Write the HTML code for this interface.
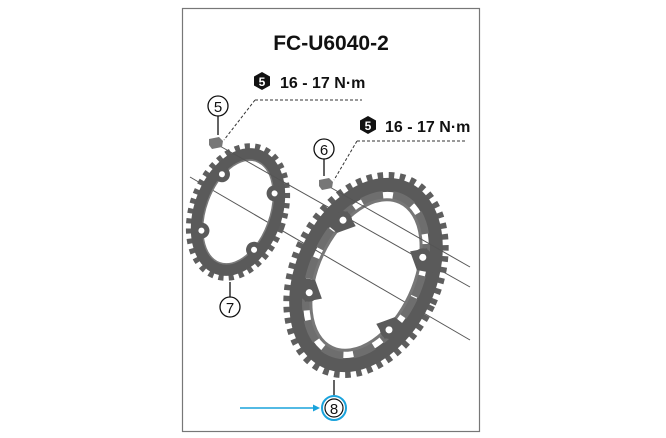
<!DOCTYPE html>
<html><head><style>
html,body{margin:0;padding:0;background:#fff;}
svg{display:block;}
text{font-family:"Liberation Sans",Arial,sans-serif;}
</style></head><body>
<svg width="666" height="438" viewBox="0 0 666 438" xmlns="http://www.w3.org/2000/svg">
<rect x="182.5" y="8.5" width="297" height="423" fill="#fff" stroke="#777" stroke-width="1.2"/>
<text x="331" y="50" font-size="21" font-weight="bold" text-anchor="middle" fill="#111">FC-U6040-2</text>

<polygon points="262,72 270,76.5 270,85.5 262,90 254,85.5 254,76.5" fill="#111"/>
<text x="262" y="86" font-size="12" font-weight="bold" fill="#fff" text-anchor="middle">5</text>
<text x="280" y="88" font-size="16" font-weight="bold" fill="#111">16 - 17 N·m</text>
<line x1="255" y1="100" x2="362" y2="100" stroke="#333" stroke-dasharray="3,2"/>
<path d="M255 100 L224 140" stroke="#333" stroke-dasharray="3,2" fill="none"/>

<polygon points="368,116 376,120.5 376,129.5 368,134 360,129.5 360,120.5" fill="#111"/>
<text x="368" y="130" font-size="12" font-weight="bold" fill="#fff" text-anchor="middle">5</text>
<text x="385" y="132" font-size="16" font-weight="bold" fill="#111">16 - 17 N·m</text>
<line x1="357" y1="141" x2="466" y2="141" stroke="#333" stroke-dasharray="3,2"/>
<path d="M357 141 L334 180" stroke="#333" stroke-dasharray="3,2" fill="none"/>

<circle cx="218" cy="106" r="10" fill="#fff" stroke="#111" stroke-width="1.3"/>
<text x="218" y="112" font-size="15" text-anchor="middle" fill="#111">5</text>
<line x1="218" y1="116" x2="218" y2="135" stroke="#111" stroke-width="1.3"/>
<circle cx="324" cy="149" r="10" fill="#fff" stroke="#111" stroke-width="1.3"/>
<text x="324" y="155" font-size="15" text-anchor="middle" fill="#111">6</text>
<line x1="324" y1="159" x2="324" y2="176" stroke="#111" stroke-width="1.3"/>

<line x1="190" y1="177" x2="470" y2="340" stroke="#555" stroke-width="1"/>

<!-- small ring -->
<g transform="translate(238,212) rotate(20)">
<ellipse rx="45" ry="67" fill="none" stroke="#5e5e5e" stroke-width="8" stroke-dasharray="5,5"/>
<ellipse rx="38" ry="60" fill="none" stroke="#5a5a5a" stroke-width="12"/>
<ellipse rx="32" ry="54" fill="none" stroke="#7a7a7a" stroke-width="1.5"/>
<circle cx="-28" cy="-30" r="8" fill="#5a5a5a"/><circle cx="28" cy="-30" r="8" fill="#5a5a5a"/>
<circle cx="-28" cy="30" r="8" fill="#5a5a5a"/><circle cx="28" cy="30" r="8" fill="#5a5a5a"/>
<circle cx="-28" cy="-30" r="3" fill="#fff"/><circle cx="28" cy="-30" r="3" fill="#fff"/>
<circle cx="-28" cy="30" r="3" fill="#fff"/><circle cx="28" cy="30" r="3" fill="#fff"/>
</g>
<line x1="218" y1="145" x2="470" y2="287" stroke="#555" stroke-width="1"/>

<!-- big ring -->
<g transform="translate(366,275) rotate(25)">
<ellipse rx="72" ry="104" fill="none" stroke="#5e5e5e" stroke-width="8" stroke-dasharray="5.5,5.5"/>
<ellipse rx="63" ry="95" fill="none" stroke="#5a5a5a" stroke-width="14"/>
<ellipse rx="53" ry="85" fill="none" stroke="#6e6e6e" stroke-width="8" stroke-dasharray="22,10"/>
<ellipse rx="48" ry="80" fill="none" stroke="#777" stroke-width="3"/>
<path d="M-60 -30 L-44 -50 L-30 -40 L-44 -26Z M60 -30 L44 -50 L30 -40 L44 -26Z M-60 30 L-44 50 L-30 40 L-44 26Z M60 30 L44 50 L30 40 L44 26Z" fill="#5a5a5a"/>
<circle cx="-44" cy="-40" r="9" fill="#5a5a5a"/><circle cx="44" cy="-40" r="9" fill="#5a5a5a"/>
<circle cx="-44" cy="40" r="9" fill="#5a5a5a"/><circle cx="44" cy="40" r="9" fill="#5a5a5a"/>
<circle cx="-44" cy="-40" r="3.5" fill="#fff"/><circle cx="44" cy="-40" r="3.5" fill="#fff"/>
<circle cx="-44" cy="40" r="3.5" fill="#fff"/><circle cx="44" cy="40" r="3.5" fill="#fff"/>
</g>
<line x1="328" y1="186" x2="470" y2="267" stroke="#555" stroke-width="1"/>

<path d="M209 139 l10 -2 l4 4 l-1 6 l-10 2 l-3 -4z" fill="#777"/>
<path d="M319 180 l10 -2 l4 4 l-1 6 l-10 2 l-3 -4z" fill="#777"/>

<line x1="230" y1="282" x2="230" y2="298" stroke="#111" stroke-width="1.3"/>
<circle cx="230" cy="307" r="10" fill="#fff" stroke="#111" stroke-width="1.3"/>
<text x="230" y="313" font-size="15" text-anchor="middle" fill="#111">7</text>

<line x1="334" y1="380" x2="334" y2="398" stroke="#111" stroke-width="1.3"/>
<circle cx="334" cy="408" r="12" fill="#fff" stroke="#1aa3dc" stroke-width="2"/>
<circle cx="334" cy="408" r="9" fill="none" stroke="#111" stroke-width="1.2"/>
<text x="334" y="414" font-size="15" text-anchor="middle" fill="#111">8</text>
<line x1="240" y1="408" x2="316" y2="408" stroke="#1aa3dc" stroke-width="1.5"/>
<polygon points="320,408 313,404.5 313,411.5" fill="#1aa3dc"/>
</svg>
</body></html>
